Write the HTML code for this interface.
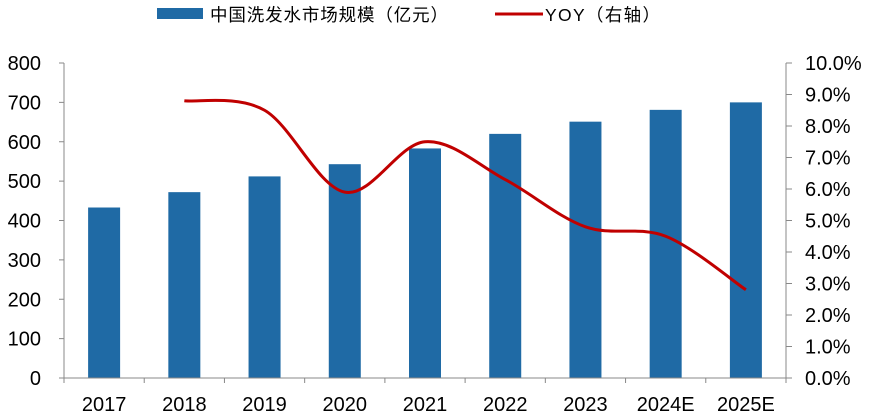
<!DOCTYPE html>
<html><head><meta charset="utf-8"><style>
body{margin:0;background:#fff;}
svg{display:block;font-family:"Liberation Sans","Noto Sans CJK SC",sans-serif;}
</style></head><body>
<svg id="c" width="869" height="417">
<g>
<rect x="157" y="8" width="46" height="11" fill="#1f6aa5"/>
<text x="210" y="21" font-size="17.5" fill="#000" textLength="238" lengthAdjust="spacing">中国洗发水市场规模（亿元）</text>
<line x1="495" y1="14" x2="543" y2="14" stroke="#c00000" stroke-width="3"/>
<text x="545" y="21" font-size="17.5" fill="#000" textLength="115" lengthAdjust="spacing">YOY（右轴）</text>
</g>
</svg>
<script>
const categories=["2017","2018","2019","2020","2021","2022","2023","2024E","2025E"];
const marketSize=[433,472,512,543,583,620,651,681,700];
const yoy=[null,8.8,8.5,5.9,7.5,6.3,4.8,4.5,2.8];
const leftTicks=[0,100,200,300,400,500,600,700,800];
const rightTicks=[0,1,2,3,4,5,6,7,8,9,10];
const NS="http://www.w3.org/2000/svg";
const svg=document.getElementById('c');
const X0=64,X1=786,Y0=378,Y1=63;
const band=(X1-X0)/categories.length;
const xc=i=>X0+band*(i+0.5);
const yl=v=>Y0-(v/800)*(Y0-Y1);
const yr=v=>Y0-(v/10)*(Y0-Y1);
function mk(t,a){const e=document.createElementNS(NS,t);for(const k in a)e.setAttribute(k,a[k]);svg.appendChild(e);return e;}
marketSize.forEach((v,i)=>{
 const r=mk('rect',{x:xc(i)-16,y:yl(v),width:32,height:Y0-yl(v),fill:'#1f6aa5'});
 
 
});
let ax=mk('line',{x1:X0,y1:Y1,x2:X0,y2:Y0,stroke:'#888'});


ax=mk('line',{x1:X1,y1:Y1,x2:X1,y2:Y0,stroke:'#888'});


ax=mk('line',{x1:X0-5,y1:Y0,x2:X1,y2:Y0,stroke:'#888'});


leftTicks.forEach(v=>{
 mk('line',{x1:X0-5,y1:yl(v),x2:X0,y2:yl(v),stroke:'#888'});
 const t=mk('text',{x:X0-23,y:yl(v)+7,'font-size':20,'text-anchor':'end'});t.textContent=v;
 
 
});
rightTicks.forEach(v=>{
 mk('line',{x1:X1,y1:yr(v),x2:X1+6,y2:yr(v),stroke:'#888'});
 const t=mk('text',{x:X1+19,y:yr(v)+7,'font-size':20});t.textContent=v.toFixed(1)+'%';
 
 
});
categories.forEach((c,i)=>{
 mk('line',{x1:X0+band*i,y1:Y0,x2:X0+band*i,y2:Y0+5,stroke:'#888'});
 const t=mk('text',{x:xc(i),y:Y0+33,'font-size':20,'text-anchor':'middle'});t.textContent=c;
 
 
});
mk('line',{x1:X1,y1:Y0,x2:X1,y2:Y0+5,stroke:'#888'});
const pts=[];yoy.forEach((v,i)=>{if(v!=null)pts.push([xc(i),yr(v)]);});
let d='M'+pts[0][0]+','+pts[0][1];
for(let i=0;i<pts.length-1;i++){
 const p0=pts[Math.max(0,i-1)],p1=pts[i],p2=pts[i+1],p3=pts[Math.min(pts.length-1,i+2)];
 const c1=[p1[0]+(p2[0]-p0[0])/6,p1[1]+(p2[1]-p0[1])/6],c2=[p2[0]-(p3[0]-p1[0])/6,p2[1]-(p3[1]-p1[1])/6];
 d+=' C'+c1+' '+c2+' '+p2;
}
const ln=mk('path',{d:d,fill:'none',stroke:'#c00000','stroke-width':3});


</script>
</body></html>
